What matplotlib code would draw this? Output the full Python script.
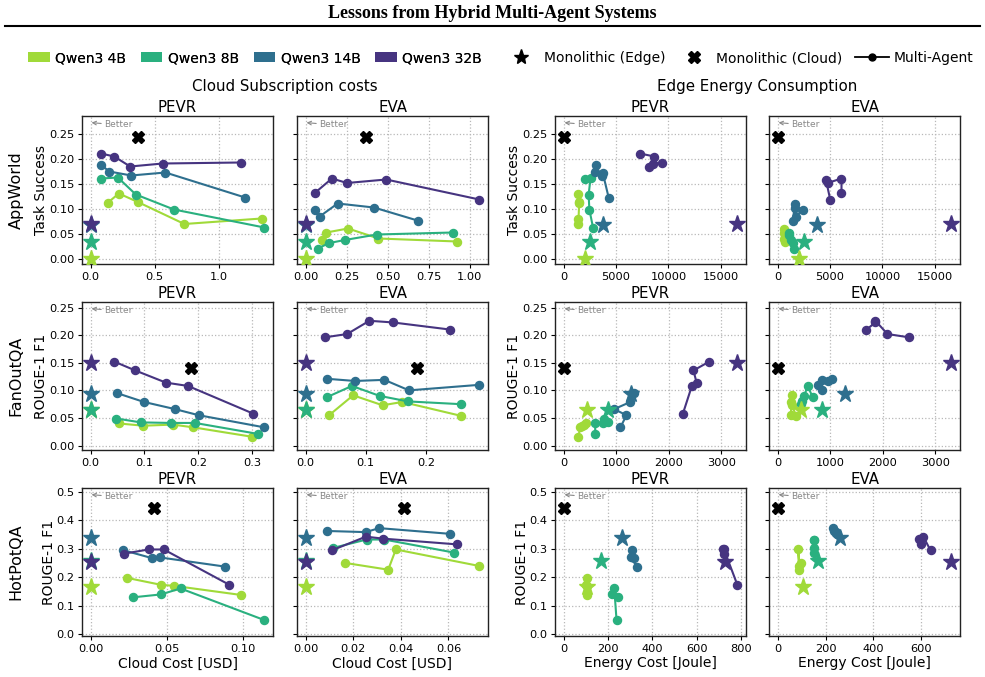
import matplotlib
matplotlib.use("Agg")
import matplotlib.pyplot as plt
from matplotlib.lines import Line2D
from matplotlib.patches import Patch

plt.rcParams["font.family"] = ["DejaVu Sans"]

MODELS = ["Qwen3 4B", "Qwen3 8B", "Qwen3 14B", "Qwen3 32B"]
COLORS = {"Qwen3 4B": "#a0da39", "Qwen3 8B": "#2ab07f", "Qwen3 14B": "#2e6f8e", "Qwen3 32B": "#463480"}
DATASETS = ["AppWorld", "FanOutQA", "HotPotQA"]
FRAMEWORKS = ["PEVR", "EVA"]
YLABELS = {"AppWorld": "Task Success", "FanOutQA": "ROUGE-1 F1", "HotPotQA": "ROUGE-1 F1"}

# ---- Monolithic (Edge): score and energy per model (cloud cost = 0)
EDGE_SCORE = {
    "AppWorld": [0.0, 0.035, 0.068, 0.070],
    "FanOutQA": [0.065, 0.064, 0.093, 0.149],
    "HotPotQA": [0.164, 0.258, 0.338, 0.253],
}
EDGE_ENERGY = {
    "AppWorld": [2040, 2490, 3730, 16570],
    "FanOutQA": [440, 845, 1285, 3305],
    "HotPotQA": [105, 170, 262, 726],
}
# ---- Monolithic (Cloud): cloud cost and score (edge energy = 0)
CLOUD_MONO_COST = {"AppWorld": 0.37, "FanOutQA": 0.186, "HotPotQA": 0.0413}
CLOUD_MONO_SCORE = {"AppWorld": 0.245, "FanOutQA": 0.141, "HotPotQA": 0.444}

# ---- Multi-Agent configurations (order = ascending cloud cost)
APPWORLD_PEVR_SCORE = {
    "Qwen3 4B": [0.113, 0.131, 0.114, 0.070, 0.081],
    "Qwen3 8B": [0.161, 0.163, 0.129, 0.099, 0.063],
    "Qwen3 14B": [0.189, 0.175, 0.167, 0.173, 0.123],
    "Qwen3 32B": [0.211, 0.205, 0.185, 0.191, 0.193],
}
APPWORLD_PEVR_CLOUD = {
    "Qwen3 4B": [0.135, 0.220, 0.368, 0.731, 1.334],
    "Qwen3 8B": [0.083, 0.212, 0.352, 0.650, 1.355],
    "Qwen3 14B": [0.078, 0.145, 0.316, 0.583, 1.205],
    "Qwen3 32B": [0.080, 0.184, 0.308, 0.562, 1.171],
}
APPWORLD_PEVR_ENERGY = {
    "Qwen3 4B": [1430, 1400, 1480, 1400, 1380],
    "Qwen3 8B": [2070, 2575, 2380, 2450, 2800],
    "Qwen3 14B": [3115, 2990, 3690, 3720, 4290],
    "Qwen3 32B": [7280, 8650, 8110, 8490, 9380],
}
APPWORLD_EVA_SCORE = {
    "Qwen3 4B": [0.039, 0.053, 0.061, 0.041, 0.035],
    "Qwen3 8B": [0.021, 0.032, 0.038, 0.049, 0.053],
    "Qwen3 14B": [0.099, 0.085, 0.111, 0.103, 0.077],
    "Qwen3 32B": [0.133, 0.161, 0.152, 0.159, 0.119],
}
APPWORLD_EVA_CLOUD = {
    "Qwen3 4B": [0.097, 0.126, 0.258, 0.444, 0.925],
    "Qwen3 8B": [0.073, 0.144, 0.239, 0.434, 0.899],
    "Qwen3 14B": [0.057, 0.085, 0.195, 0.416, 0.682],
    "Qwen3 32B": [0.059, 0.160, 0.252, 0.491, 1.059],
}
APPWORLD_EVA_ENERGY = {
    "Qwen3 4B": [700, 650, 650, 600, 700],
    "Qwen3 8B": [1590, 1430, 1270, 1110, 1110],
    "Qwen3 14B": [2380, 1740, 1680, 1620, 1430],
    "Qwen3 32B": [6090, 6090, 4760, 4600, 5010],
}
FANOUTQA_PEVR_SCORE = {
    "Qwen3 4B": [0.040, 0.036, 0.038, 0.033, 0.016],
    "Qwen3 8B": [0.049, 0.042, 0.041, 0.041, 0.021],
    "Qwen3 14B": [0.095, 0.079, 0.066, 0.055, 0.033],
    "Qwen3 32B": [0.152, 0.136, 0.114, 0.108, 0.058],
}
FANOUTQA_PEVR_CLOUD = {
    "Qwen3 4B": [0.053, 0.098, 0.153, 0.191, 0.300],
    "Qwen3 8B": [0.048, 0.093, 0.149, 0.194, 0.312],
    "Qwen3 14B": [0.049, 0.099, 0.157, 0.201, 0.323],
    "Qwen3 32B": [0.044, 0.083, 0.140, 0.181, 0.302],
}
FANOUTQA_PEVR_ENERGY = {
    "Qwen3 4B": [430, 355, 385, 315, 280],
    "Qwen3 8B": [770, 835, 740, 600, 600],
    "Qwen3 14B": [1345, 1270, 960, 1195, 1080],
    "Qwen3 32B": [2770, 2470, 2530, 2440, 2270],
}
FANOUTQA_EVA_SCORE = {
    "Qwen3 4B": [0.055, 0.091, 0.073, 0.079, 0.054],
    "Qwen3 8B": [0.088, 0.108, 0.090, 0.080, 0.075],
    "Qwen3 14B": [0.121, 0.117, 0.119, 0.100, 0.110],
    "Qwen3 32B": [0.196, 0.202, 0.226, 0.223, 0.210],
}
FANOUTQA_EVA_CLOUD = {
    "Qwen3 4B": [0.039, 0.079, 0.128, 0.161, 0.258],
    "Qwen3 8B": [0.036, 0.077, 0.123, 0.170, 0.258],
    "Qwen3 14B": [0.035, 0.082, 0.131, 0.172, 0.289],
    "Qwen3 32B": [0.032, 0.069, 0.106, 0.145, 0.241],
}
FANOUTQA_EVA_ENERGY = {
    "Qwen3 4B": [250, 270, 265, 250, 350],
    "Qwen3 8B": [665, 570, 505, 460, 440],
    "Qwen3 14B": [1040, 950, 840, 835, 765],
    "Qwen3 32B": [2500, 2090, 1860, 1860, 1690],
}
HOTPOTQA_PEVR_SCORE = {
    "Qwen3 4B": [0.197, 0.173, 0.169, 0.137],
    "Qwen3 8B": [0.129, 0.139, 0.160, 0.049],
    "Qwen3 14B": [0.295, 0.267, 0.269, 0.237],
    "Qwen3 32B": [0.282, 0.297, 0.297, 0.173],
}
HOTPOTQA_PEVR_CLOUD = {
    "Qwen3 4B": [0.024, 0.046, 0.055, 0.099],
    "Qwen3 8B": [0.028, 0.046, 0.059, 0.114],
    "Qwen3 14B": [0.021, 0.040, 0.0456, 0.088],
    "Qwen3 32B": [0.0216, 0.038, 0.048, 0.091],
}
HOTPOTQA_PEVR_ENERGY = {
    "Qwen3 4B": [105, 100, 107, 104],
    "Qwen3 8B": [243, 219, 228, 238],
    "Qwen3 14B": [307, 316, 305, 328],
    "Qwen3 32B": [722, 719, 722, 782],
}
HOTPOTQA_EVA_SCORE = {
    "Qwen3 4B": [0.250, 0.226, 0.297, 0.239],
    "Qwen3 8B": [0.302, 0.332, 0.332, 0.286],
    "Qwen3 14B": [0.362, 0.358, 0.372, 0.352],
    "Qwen3 32B": [0.294, 0.342, 0.335, 0.315],
}
HOTPOTQA_EVA_CLOUD = {
    "Qwen3 4B": [0.0164, 0.0347, 0.0379, 0.0730],
    "Qwen3 8B": [0.0113, 0.0256, 0.0330, 0.0624],
    "Qwen3 14B": [0.0091, 0.0252, 0.0309, 0.0606],
    "Qwen3 32B": [0.0110, 0.0253, 0.0327, 0.0635],
}
HOTPOTQA_EVA_ENERGY = {
    "Qwen3 4B": [97, 90, 86, 90],
    "Qwen3 8B": [153, 150, 150, 153],
    "Qwen3 14B": [236, 245, 232, 250],
    "Qwen3 32B": [639, 609, 589, 599],
}

MULTI = {
    ("AppWorld", "PEVR"): (APPWORLD_PEVR_SCORE, APPWORLD_PEVR_CLOUD, APPWORLD_PEVR_ENERGY),
    ("AppWorld", "EVA"): (APPWORLD_EVA_SCORE, APPWORLD_EVA_CLOUD, APPWORLD_EVA_ENERGY),
    ("FanOutQA", "PEVR"): (FANOUTQA_PEVR_SCORE, FANOUTQA_PEVR_CLOUD, FANOUTQA_PEVR_ENERGY),
    ("FanOutQA", "EVA"): (FANOUTQA_EVA_SCORE, FANOUTQA_EVA_CLOUD, FANOUTQA_EVA_ENERGY),
    ("HotPotQA", "PEVR"): (HOTPOTQA_PEVR_SCORE, HOTPOTQA_PEVR_CLOUD, HOTPOTQA_PEVR_ENERGY),
    ("HotPotQA", "EVA"): (HOTPOTQA_EVA_SCORE, HOTPOTQA_EVA_CLOUD, HOTPOTQA_EVA_ENERGY),
}

YLIMS = {"AppWorld": (-0.01, 0.286), "FanOutQA": (-0.008, 0.26), "HotPotQA": (-0.007, 0.513)}
YTICKS = {"AppWorld": [0, 0.05, 0.10, 0.15, 0.20, 0.25],
          "FanOutQA": [0, 0.05, 0.10, 0.15, 0.20, 0.25],
          "HotPotQA": [0, 0.1, 0.2, 0.3, 0.4, 0.5]}
# x tick positions per (row, column)
XTICKS = {
    (0, 0): [0.0, 0.5, 1.0], (0, 1): [0.0, 0.25, 0.5, 0.75, 1.0],
    (0, 2): [0, 5000, 10000, 15000], (0, 3): [0, 5000, 10000, 15000],
    (1, 0): [0.0, 0.1, 0.2, 0.3], (1, 1): [0.0, 0.1, 0.2],
    (1, 2): [0, 1000, 2000, 3000], (1, 3): [0, 1000, 2000, 3000],
    (2, 0): [0.0, 0.05, 0.10], (2, 1): [0.0, 0.02, 0.04, 0.06],
    (2, 2): [0, 200, 400, 600, 800], (2, 3): [0, 200, 400, 600],
}
XFMT = {
    (0, 0): "{:.1f}", (0, 1): "{:.2f}", (0, 2): "{:.0f}", (0, 3): "{:.0f}",
    (1, 0): "{:.1f}", (1, 1): "{:.1f}", (1, 2): "{:.0f}", (1, 3): "{:.0f}",
    (2, 0): "{:.2f}", (2, 1): "{:.2f}", (2, 2): "{:.0f}", (2, 3): "{:.0f}",
}
YFMT = {"AppWorld": "{:.2f}", "FanOutQA": "{:.2f}", "HotPotQA": "{:.1f}"}

TICK_FS = 8.2
LABEL_FS = 10.0
TITLE_FS = 10.8

fig = plt.figure(figsize=(9.85, 6.77), dpi=100)
W, H = 985.0, 677.0


def add_ax(left, top, w, h):
    return fig.add_axes([left / W, 1 - (top + h) / H, w / W, h / H])


COL_LEFT = [82, 297, 555, 769]
ROW_TOP = [116, 302, 488]
AW, AH = 191, 148

for r, ds in enumerate(DATASETS):
    for c in range(4):
        kind = "cloud" if c < 2 else "energy"
        fw = FRAMEWORKS[c % 2]
        ax = add_ax(COL_LEFT[c], ROW_TOP[r], AW, AH)
        score, cloud, energy = MULTI[(ds, fw)]
        # multi-agent lines
        for m in MODELS:
            xs = cloud[m] if kind == "cloud" else energy[m]
            ax.plot(xs, score[m], "-o", color=COLORS[m], lw=1.5, ms=5.8, zorder=3)
        # monolithic edge stars
        for i, m in enumerate(MODELS):
            ex = 0.0 if kind == "cloud" else EDGE_ENERGY[ds][i]
            ax.plot([ex], [EDGE_SCORE[ds][i]], "*", color=COLORS[m], ms=12.5, zorder=4)
        # monolithic cloud
        cx = CLOUD_MONO_COST[ds] if kind == "cloud" else 0.0
        ax.plot([cx], [CLOUD_MONO_SCORE[ds]], "X", color="black", ms=8, zorder=5)

        ax.set_ylim(*YLIMS[ds])
        ax.set_yticks(YTICKS[ds])
        ax.set_xticks(XTICKS[(r, c)])
        ax.set_xticklabels([XFMT[(r, c)].format(v) for v in XTICKS[(r, c)]])
        ax.grid(True, linestyle=":", color="#b8b8b8", linewidth=0.9)
        ax.set_axisbelow(True)
        for s in ax.spines.values():
            s.set_linewidth(1.0)
            s.set_color("#222222")
        ax.tick_params(labelsize=TICK_FS, length=3, width=0.8, pad=2.5)
        if c % 2 == 1:
            ax.tick_params(labelleft=False)
        else:
            ax.set_yticklabels([YFMT[ds].format(v) for v in YTICKS[ds]])
            ax.set_ylabel(YLABELS[ds], fontsize=LABEL_FS, labelpad=0.5)
        ax.set_title(fw, fontsize=TITLE_FS, pad=3)
        if r == 2:
            ax.set_xlabel("Cloud Cost [USD]" if kind == "cloud" else "Energy Cost [Joule]",
                          fontsize=LABEL_FS, labelpad=2)
        ax.annotate("Better", xy=(0.05, 0.955), xycoords="axes fraction",
                    xytext=(0.115, 0.94), textcoords="axes fraction",
                    fontsize=6.5, color="#888888", va="center", ha="left",
                    arrowprops=dict(arrowstyle="->", color="#888888", lw=0.8,
                                    shrinkA=0, shrinkB=0))

# Row labels
for r, ds in enumerate(DATASETS):
    yc = 1 - (ROW_TOP[r] + AH / 2) / H
    fig.text(16 / W, yc, ds, rotation=90, ha="center", va="center", fontsize=11.5)

# Group titles
fig.text(((COL_LEFT[0] + COL_LEFT[1] + AW) / 2) / W, 1 - 87 / H, "Cloud Subscription costs",
         ha="center", va="center", fontsize=TITLE_FS)
fig.text(((COL_LEFT[2] + COL_LEFT[3] + AW) / 2) / W, 1 - 87 / H, "Edge Energy Consumption",
         ha="center", va="center", fontsize=TITLE_FS)

# Main title and rule
fig.text(0.5, 1 - 13 / H, "Lessons from Hybrid Multi-Agent Systems", ha="center", va="center",
         fontsize=13, fontweight="bold", family="Liberation Serif")
fig.add_artist(Line2D([5 / W, 980 / W], [1 - 26 / H, 1 - 26 / H], color="black", lw=1.5))

# Legends: model colours (left) and system types (right)
model_handles = [Patch(facecolor=COLORS[m], edgecolor="none") for m in MODELS]
leg1 = fig.legend(model_handles, MODELS, loc="center left", bbox_to_anchor=(24 / W, 1 - 58 / H),
                  ncol=4, frameon=False, fontsize=10, handlelength=1.55, handleheight=0.7,
                  columnspacing=1.05, handletextpad=0.4, borderaxespad=0, borderpad=0.3)
type_handles = [
    Line2D([], [], marker="*", color="black", ls="none", ms=11),
    Line2D([], [], marker="X", color="black", ls="none", ms=8),
    Line2D([], [], marker="o", color="black", ls="-", lw=1.3, ms=5),
]
type_labels = ["Monolithic (Edge)", "Monolithic (Cloud)", "Multi-Agent"]
fig.legend(type_handles, type_labels, loc="center right", bbox_to_anchor=(978 / W, 1 - 58 / H),
           ncol=3, frameon=False, fontsize=10, handlelength=2.4,
           columnspacing=0.9, handletextpad=0.4, borderaxespad=0, borderpad=0.3)
fig.add_artist(leg1)

fig.savefig("out.png", dpi=100)
